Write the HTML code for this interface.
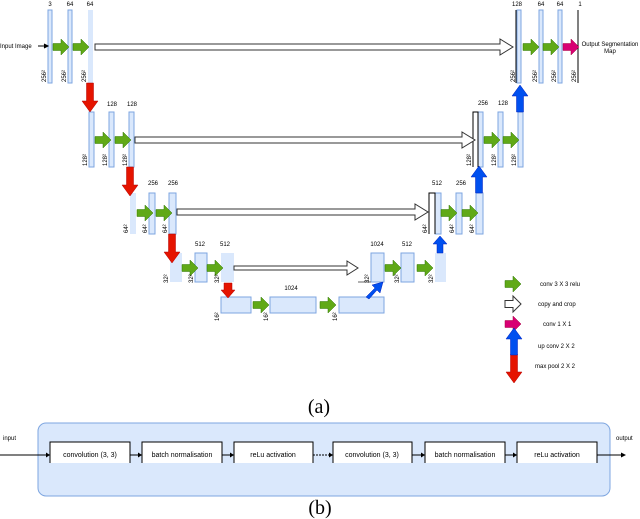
<!DOCTYPE html>
<html><head><meta charset="utf-8"><style>
html,body{margin:0;padding:0;background:#fff;}
svg{display:block;}
text{font-family:"Liberation Sans",sans-serif;}
</style></head><body>
<svg width="640" height="519" viewBox="0 0 640 519" xmlns="http://www.w3.org/2000/svg">
<defs>
<path id="ga" d="M0,-3.5 H8 V-8 L16,0 L8,8 V3.5 H0 Z"/>
<path id="da" d="M-3.5,0 V18 H-8 L0,29 L8,18 H3.5 V0 Z"/>
<path id="ua" d="M-3.5,0 V-16 H-8 L0,-27 L8,-16 H3.5 V0 Z"/>
</defs>
<g fill="#dae8fc" stroke="#7ea6e0" stroke-width="1">
<!-- level1 -->
<rect x="48" y="10" width="4" height="73"/>
<rect x="68" y="10" width="4" height="73"/>
<rect x="88" y="10" width="5" height="73" stroke="none"/>
<rect x="517" y="10" width="4" height="73"/>
<rect x="539" y="10" width="4" height="73"/>
<rect x="558" y="10" width="4" height="73"/>
<!-- level2 -->
<rect x="89" y="112" width="5" height="55"/>
<rect x="109" y="112" width="5" height="55"/>
<rect x="129" y="112" width="5" height="55"/>
<rect x="478" y="112" width="5" height="55"/>
<rect x="498" y="112" width="5" height="55"/>
<rect x="518" y="112" width="5" height="55"/>
<!-- level3 -->
<rect x="130" y="193" width="6" height="41" stroke="none"/>
<rect x="149" y="193" width="6" height="41"/>
<rect x="169" y="193" width="7" height="41"/>
<rect x="435" y="193" width="6" height="41"/>
<rect x="456" y="193" width="6" height="41"/>
<rect x="476" y="193" width="7" height="41"/>
<!-- level4 -->
<rect x="170" y="253" width="12" height="29" stroke="none"/>
<rect x="195" y="253" width="12" height="29"/>
<rect x="221" y="253" width="13" height="29" stroke="none"/>
<rect x="371" y="253" width="13" height="29"/>
<rect x="401" y="253" width="13" height="29"/>
<rect x="435" y="253" width="11" height="29" stroke="none"/>
<!-- level5 -->
<rect x="221" y="297" width="30" height="16"/>
<rect x="270" y="297" width="46" height="16"/>
<rect x="339" y="297" width="45" height="16"/>
</g>
<g stroke="#000" stroke-width="1" fill="none">
<line x1="516" y1="10" x2="516" y2="83"/>
<line x1="578" y1="10" x2="578" y2="83"/>
<path d="M473,167 V112 H478 V167"/>
<path d="M429,234 V193 H435 V234"/>
<line x1="358" y1="282" x2="371" y2="282" stroke="#666"/>
<line x1="38" y1="46" x2="46" y2="46"/>
<path d="M44,44 L48,46 L44,48" fill="#000"/>
</g>
<!-- copy arrows -->
<g fill="#fff" stroke="#333" stroke-width="1">
<path d="M95,44 H500 V39 L513,47 L500,55 V50 H95 Z"/>
<path d="M135,137 H462 V132 L475,140 L462,148 V143 H135 Z"/>
<path d="M177,209 H415 V204 L428,212 L415,220 V215 H177 Z"/>
<path d="M234,266 H347 V261 L358,268 L347,275 V270 H234 Z"/>
</g>
<!-- green -->
<g fill="#60a917" stroke="#2d7600" stroke-width="0.5">
<use href="#ga" x="53" y="47"/><use href="#ga" x="73" y="47"/>
<use href="#ga" x="523" y="47"/><use href="#ga" x="543" y="47"/>
<use href="#ga" x="95" y="140"/><use href="#ga" x="115" y="140"/>
<use href="#ga" x="484" y="140"/><use href="#ga" x="503" y="140"/>
<use href="#ga" x="137" y="213"/><use href="#ga" x="156" y="213"/>
<use href="#ga" x="441" y="213"/><use href="#ga" x="462" y="213"/>
<use href="#ga" x="182" y="268"/><use href="#ga" x="207" y="268"/>
<use href="#ga" x="385" y="268"/><use href="#ga" x="417" y="268"/>
<use href="#ga" x="253" y="305"/><use href="#ga" x="320" y="305"/>
<use href="#ga" x="505" y="284"/>
</g>
<g fill="#d80073" stroke="#a50040" stroke-width="0.5">
<use href="#ga" x="563" y="47"/><use href="#ga" x="505" y="324"/>
</g>
<path d="M505,300.5 H513 V296 L521,304 L513,312 V307.5 H505 Z" fill="#fff" stroke="#333"/>
<g fill="#e51400" stroke="#b20000" stroke-width="0.5">
<use href="#da" x="90" y="83"/><use href="#da" x="130" y="167"/>
<use href="#da" x="172" y="234"/>
<path d="M224,283 V290 H221 L228,298 L235,290 H232 V283 Z"/>
<use href="#da" x="514" y="354" transform="translate(0,0)"/>
</g>
<g fill="#0050ef" stroke="#001dbc" stroke-width="0.5">
<use href="#ua" x="520" y="112"/><use href="#ua" x="479" y="193"/>
<path d="M437,253 V244 H433 L440,236 L447,244 H443 V253 Z"/>
<path d="M366,297 L375,288 L372,285 L383,282 L380,293 L377,290 L369,299 Z"/>
<use href="#ua" x="514" y="355"/>
</g>
<!-- labels -->
<g font-size="6" fill="#000" text-anchor="middle">
<text x="50" y="6">3</text><text x="70" y="6">64</text><text x="90" y="6">64</text>
<text x="517" y="6">128</text><text x="541" y="6">64</text><text x="560" y="6">64</text><text x="580" y="6">1</text>
<text x="112" y="106">128</text><text x="132" y="106">128</text>
<text x="483" y="105">256</text><text x="503" y="105">128</text>
<text x="153" y="185">256</text><text x="173" y="185">256</text>
<text x="437" y="185">512</text><text x="461" y="185">256</text>
<text x="200" y="246">512</text><text x="225" y="246">512</text>
<text x="377" y="246">1024</text><text x="407" y="246">512</text>
<text x="291" y="290">1024</text>
<text x="610" y="46">Output Segmentation</text><text x="610" y="53">Map</text>
</g>
<g font-size="6" fill="#000">
<text x="0" y="48">Input Image</text>
<text x="540" y="286">conv 3 X 3 relu</text>
<text x="538" y="306">copy and crop</text>
<text x="543" y="326">conv 1 X 1</text>
<text x="538" y="348">up conv 2 X 2</text>
<text x="535" y="368">max pool 2 X 2</text>
</g>
<g font-size="6" fill="#000">
<text transform="translate(46,82) rotate(-90)">256²</text>
<text transform="translate(66,82) rotate(-90)">256²</text>
<text transform="translate(86,82) rotate(-90)">256²</text>
<text transform="translate(515,82) rotate(-90)">256²</text>
<text transform="translate(537,82) rotate(-90)">256²</text>
<text transform="translate(556,82) rotate(-90)">256²</text>
<text transform="translate(576,82) rotate(-90)">256²</text>
<text transform="translate(87,166) rotate(-90)">128²</text>
<text transform="translate(107,166) rotate(-90)">128²</text>
<text transform="translate(127,166) rotate(-90)">128²</text>
<text transform="translate(471,166) rotate(-90)">128²</text>
<text transform="translate(496,166) rotate(-90)">128²</text>
<text transform="translate(516,166) rotate(-90)">128²</text>
<text transform="translate(128,233) rotate(-90)">64²</text>
<text transform="translate(147,233) rotate(-90)">64²</text>
<text transform="translate(167,233) rotate(-90)">64²</text>
<text transform="translate(427,233) rotate(-90)">64²</text>
<text transform="translate(454,233) rotate(-90)">64²</text>
<text transform="translate(474,233) rotate(-90)">64²</text>
<text transform="translate(168,283) rotate(-90)">32²</text>
<text transform="translate(193,283) rotate(-90)">32²</text>
<text transform="translate(219,283) rotate(-90)">32²</text>
<text transform="translate(369,283) rotate(-90)">32²</text>
<text transform="translate(399,283) rotate(-90)">32²</text>
<text transform="translate(433,283) rotate(-90)">32²</text>
<text transform="translate(219,321) rotate(-90)">16²</text>
<text transform="translate(268,321) rotate(-90)">16²</text>
<text transform="translate(337,321) rotate(-90)">16²</text>
</g>
<text x="319" y="413" font-family="Liberation Serif,serif" font-size="20" text-anchor="middle" style="font-family:'Liberation Serif',serif">(a)</text>
<!-- (b) -->
<rect x="38" y="423" width="572" height="73" rx="8" fill="#dae8fc" stroke="#7ea6e0"/>
<g stroke="#000" stroke-width="1">
<line x1="0" y1="455" x2="50" y2="455"/>
<line x1="130" y1="455" x2="142" y2="455"/>
<line x1="222" y1="455" x2="234" y2="455"/>
<line x1="313" y1="455" x2="333" y2="455" stroke-dasharray="2,1"/>
<line x1="412" y1="455" x2="425" y2="455"/>
<line x1="505" y1="455" x2="517" y2="455"/>
<line x1="597" y1="455" x2="625" y2="455"/>
</g>
<g fill="#000">
<path d="M46,452.5 L50,455 L46,457.5Z"/><path d="M138,452.5 L142,455 L138,457.5Z"/>
<path d="M230,452.5 L234,455 L230,457.5Z"/><path d="M329,452.5 L333,455 L329,457.5Z"/>
<path d="M421,452.5 L425,455 L421,457.5Z"/><path d="M513,452.5 L517,455 L513,457.5Z"/>
<path d="M621,452.5 L626,455 L621,457.5Z"/>
</g>
<g fill="#fff" stroke="#000" stroke-width="1">
<path d="M50,463 V442 H130 V463"/><path d="M142,463 V442 H222 V463"/>
<path d="M234,463 V442 H313 V463"/><path d="M333,463 V442 H412 V463"/>
<path d="M425,463 V442 H505 V463"/><path d="M517,463 V442 H597 V463"/>
</g>
<g font-size="7" fill="#000" text-anchor="middle">
<text x="90" y="457">convolution (3, 3)</text>
<text x="182" y="457">batch normalisation</text>
<text x="273" y="457">reLu activation</text>
<text x="372" y="457">convolution (3, 3)</text>
<text x="465" y="457">batch normalisation</text>
<text x="557" y="457">reLu activation</text>
</g>
<text x="3" y="440" font-size="6">input</text>
<text x="616" y="440" font-size="6">output</text>
<text x="320" y="514" font-size="20" text-anchor="middle" style="font-family:'Liberation Serif',serif">(b)</text>
</svg>
</body></html>
